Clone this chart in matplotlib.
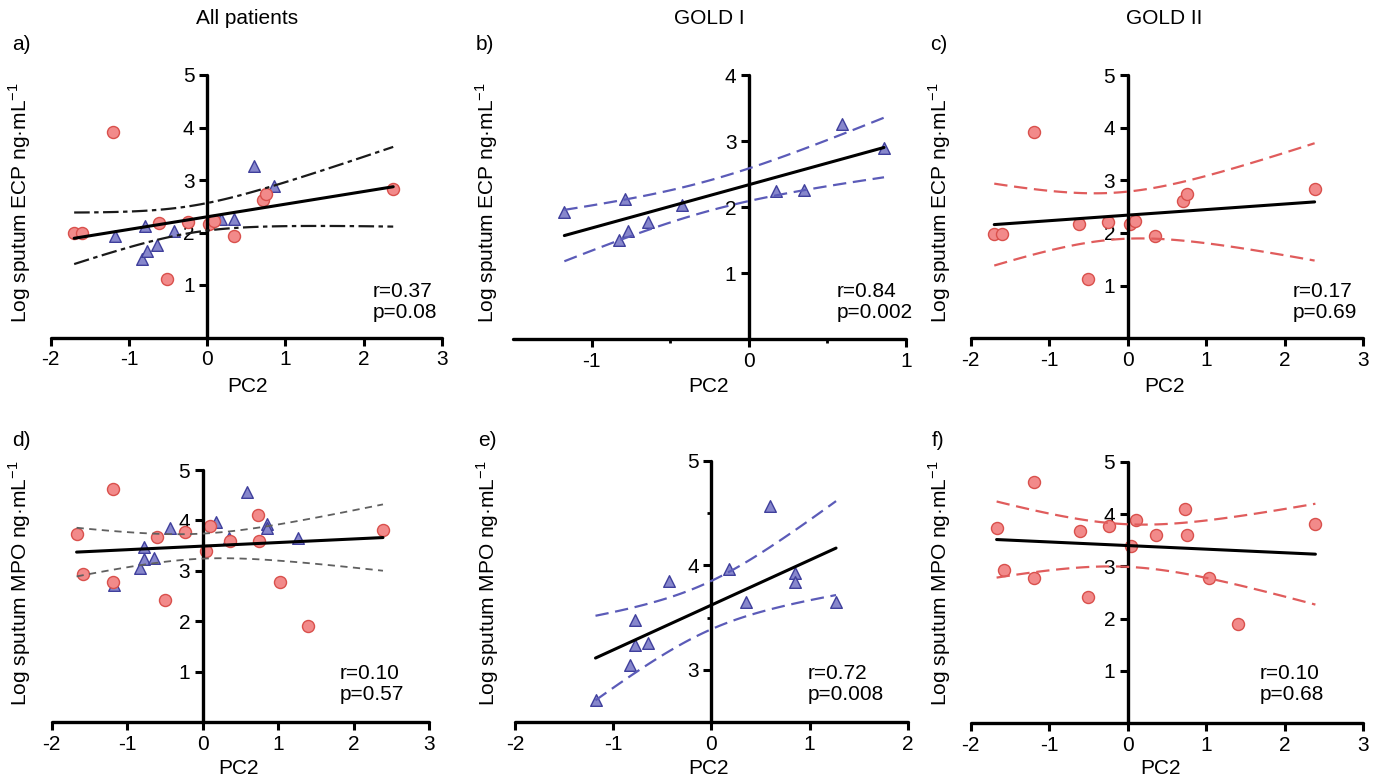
import numpy as np
import matplotlib
matplotlib.use('Agg')
import matplotlib.pyplot as plt
from matplotlib.ticker import FixedLocator, FuncFormatter

plt.rcParams['font.family'] = ['Liberation Sans', 'DejaVu Sans']
plt.rcParams['mathtext.fontset'] = 'custom'
plt.rcParams['mathtext.rm'] = 'Liberation Sans'

W, H = 1376, 779

# GOLD I (blue triangles) and GOLD II (red circles), PC2 vs log sputum ECP / MPO
gold1_ecp_x = [-1.175, -0.79, -0.83, -0.77, -0.64, -0.425, 0.174, 0.35, 0.595, 0.86]
gold1_ecp_y = [1.93, 2.13, 1.50, 1.64, 1.77, 2.03, 2.25, 2.26, 3.26, 2.89]

gold2_ecp_x = [-1.70, -1.60, -1.20, -0.62, -0.51, -0.25, 0.03, 0.09, 0.35, 0.71, 0.75, 2.38]
gold2_ecp_y = [1.99, 1.99, 3.91, 2.18, 1.12, 2.20, 2.17, 2.22, 1.94, 2.61, 2.74, 2.83]

gold1_mpo_x = [-1.18, -0.83, -0.78, -0.645, -0.78, -0.435, 0.18, 0.35, 0.594, 0.85, 0.85, 1.27]
gold1_mpo_y = [2.71, 3.05, 3.24, 3.26, 3.48, 3.85, 3.97, 3.65, 4.57, 3.93, 3.84, 3.65]

gold2_mpo_x = [-1.67, -1.58, -1.19, -1.19, -0.61, -0.50, -0.24, 0.04, 0.10, 0.36, 0.73, 0.75, 1.03, 1.40, 2.39]
gold2_mpo_y = [3.73, 2.93, 4.62, 2.77, 3.68, 2.42, 3.77, 3.39, 3.89, 3.60, 4.10, 3.60, 2.77, 1.90, 3.80]

col_titles = ['All patients', 'GOLD I', 'GOLD II']
stats = ['r=0.37\np=0.08', 'r=0.84\np=0.002', 'r=0.17\np=0.69',
         'r=0.10\np=0.57', 'r=0.72\np=0.008', 'r=0.10\np=0.68']

# two-sided 95% t critical values by degrees of freedom
T_CRIT = {8: 2.306, 10: 2.228, 13: 2.160, 20: 2.086, 25: 2.060}

RED_FACE, RED_EDGE = '#f28a8a', '#d9504c'
BLUE_FACE, BLUE_EDGE = '#8787cc', '#3f3f9c'


def fit_with_ci(x, y):
    x = np.asarray(x, float)
    y = np.asarray(y, float)
    n = len(x)
    slope, icpt = np.polyfit(x, y, 1)
    xs = np.linspace(x.min(), x.max(), 100)
    yhat = icpt + slope * xs
    resid = y - (icpt + slope * x)
    s = np.sqrt(np.sum(resid ** 2) / (n - 2))
    se = s * np.sqrt(1 / n + (xs - x.mean()) ** 2 / np.sum((x - x.mean()) ** 2))
    t = T_CRIT[n - 2]
    return xs, yhat, yhat - t * se, yhat + t * se


def px_rect(x0, x1, ytop, ybot):
    return [x0 / W, 1 - ybot / H, (x1 - x0) / W, (ybot - ytop) / H]


def ftext(x, y, s, **kw):
    fig.text(x / W, 1 - y / H, s, **kw)


def make_panel(rect, xlim, ylim, xticks, yticks, blue=None, red=None, ci_color='k',
               ci_dash=(6, 3), ci_lw=1.6, xminor=None, yminor=None):
    ax = fig.add_axes(px_rect(*rect))
    ax.set_xlim(*xlim)
    ax.set_ylim(*ylim)
    for side in ['top', 'right']:
        ax.spines[side].set_visible(False)
    ax.spines['left'].set_position(('data', 0))
    for side in ['left', 'bottom']:
        ax.spines[side].set_linewidth(2.4)
        ax.spines[side].set_capstyle('round')
    ax.set_xticks(xticks)
    ax.set_yticks(yticks)
    if xminor:
        ax.xaxis.set_minor_locator(FixedLocator(xminor))
    if yminor:
        ax.yaxis.set_minor_locator(FixedLocator(yminor))
    ax.tick_params(which='major', direction='out', length=6, width=2.2,
                   labelsize=15, pad=3)
    ax.tick_params(which='minor', direction='out', length=3, width=2.0)
    ax.xaxis.set_major_formatter(FuncFormatter(lambda v, p: f'{v:g}'))
    ax.yaxis.set_major_formatter(FuncFormatter(lambda v, p: f'{v:g}'))
    ax.patch.set_alpha(0)

    xs_all, ys_all = [], []
    if blue is not None:
        ax.scatter(blue[0], blue[1], marker='^', s=70, c=BLUE_FACE,
                   edgecolors=BLUE_EDGE, linewidths=1.0, zorder=2, clip_on=False)
        xs_all += list(blue[0])
        ys_all += list(blue[1])
    if red is not None:
        ax.scatter(red[0], red[1], marker='o', s=75, c=RED_FACE,
                   edgecolors=RED_EDGE, linewidths=1.0, zorder=2, clip_on=False)
        xs_all += list(red[0])
        ys_all += list(red[1])

    xs, yhat, lo, hi = fit_with_ci(xs_all, ys_all)
    ax.plot(xs, yhat, color='k', lw=2.2, zorder=3, solid_capstyle='round')
    for band in (lo, hi):
        ax.plot(xs, band, color=ci_color, lw=ci_lw, dashes=ci_dash, zorder=3)
    return ax


fig = plt.figure(figsize=(W / 100, H / 100), dpi=100)

ecp_label = 'Log sputum ECP ng·mL$^{-1}$'
mpo_label = 'Log sputum MPO ng·mL$^{-1}$'

make_panel((50.7, 441.7, 75, 337.5), (-2, 3), (0, 5), [-2, -1, 0, 1, 2, 3], [1, 2, 3, 4, 5],
           blue=(gold1_ecp_x, gold1_ecp_y), red=(gold2_ecp_x, gold2_ecp_y),
           ci_color='#1a1a1a', ci_dash=(7, 2, 2, 2), ci_lw=1.6)
make_panel((513.3, 906, 75, 339.3), (-1.5, 1), (0, 4), [-1, 0, 1], [1, 2, 3, 4],
           blue=(gold1_ecp_x, gold1_ecp_y), ci_color='#5b5bb8', xminor=[-0.5, 0.5])
make_panel((970.7, 1363.3, 75, 338.3), (-2, 3), (0, 5), [-2, -1, 0, 1, 2, 3], [1, 2, 3, 4, 5],
           red=(gold2_ecp_x, gold2_ecp_y), ci_color='#e05c5c')
make_panel((51.7, 429, 470, 722), (-2, 3), (0, 5), [-2, -1, 0, 1, 2, 3], [1, 2, 3, 4, 5],
           blue=(gold1_mpo_x, gold1_mpo_y), red=(gold2_mpo_x, gold2_mpo_y),
           ci_color='#606060', ci_dash=(4, 3), ci_lw=1.3)
make_panel((515, 907.7, 461, 722), (-2, 2), (2.5, 5), [-2, -1, 0, 1, 2], [3, 4, 5],
           blue=(gold1_mpo_x, gold1_mpo_y), ci_color='#5b5bb8', yminor=[3.5, 4.5])
make_panel((970.7, 1363.3, 461.7, 723.3), (-2, 3), (0, 5), [-2, -1, 0, 1, 2, 3], [1, 2, 3, 4, 5],
           red=(gold2_mpo_x, gold2_mpo_y), ci_color='#e05c5c')

# column titles and panel letters
for x, t in zip([247, 709, 1164], col_titles):
    ftext(x, 18, t, ha='center', va='center', fontsize=15)
for (x, y), letter in zip([(12, 45), (476, 45), (930, 45), (12, 441), (478, 441), (932, 441)],
                          ['a)', 'b)', 'c)', 'd)', 'e)', 'f)']):
    ftext(x, y, letter, ha='left', va='center', fontsize=15)

# axis labels
for (x, y), lab in zip([(20, 203), (487, 203), (940, 203), (20, 583), (488, 583), (940, 583)],
                       [ecp_label] * 3 + [mpo_label] * 3):
    ftext(x, y, lab, ha='center', va='center', rotation=90, fontsize=15)
for x, y in [(247, 387), (709, 387), (1165, 387), (239, 768), (708, 768), (1160, 768)]:
    ftext(x, y, 'PC2', ha='center', va='center', fontsize=15)

# correlation stats
for (x, y), s in zip([(373, 302), (837, 302), (1293, 302), (340, 684), (808, 684), (1260, 684)], stats):
    ftext(x, y, s, ha='left', va='center', fontsize=15, linespacing=1.15)

fig.savefig('out.png', dpi=100)
